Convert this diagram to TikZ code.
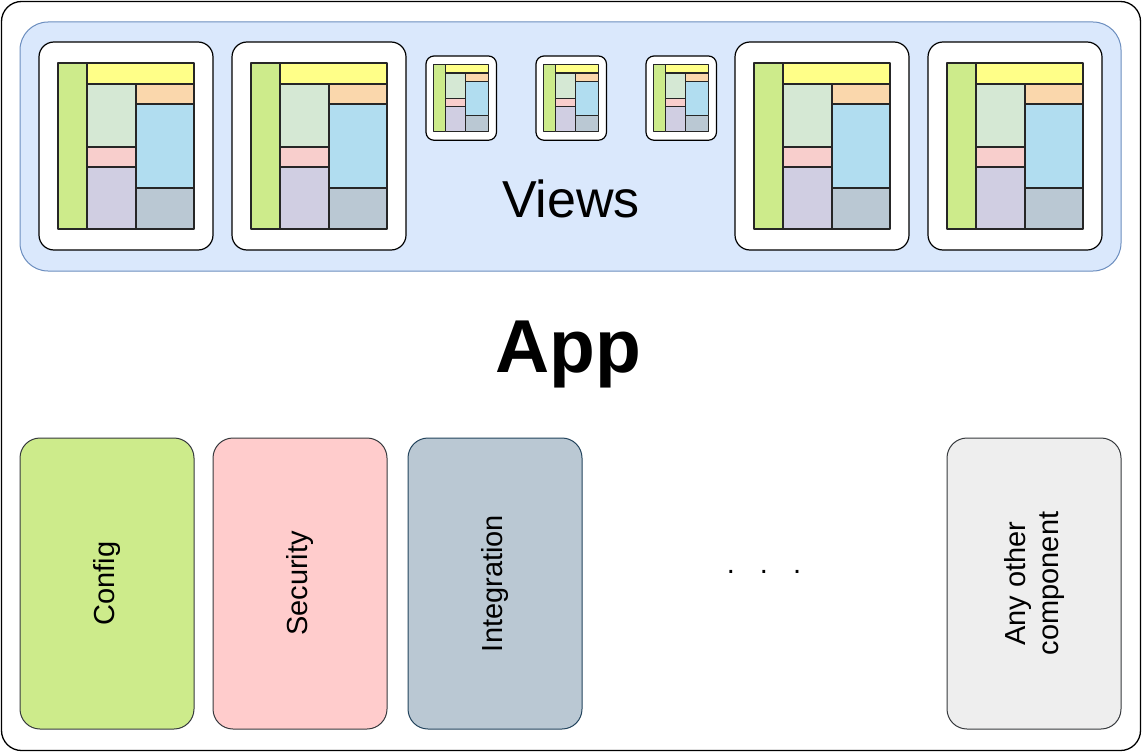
\documentclass[tikz,border=0pt]{standalone}
\usepackage{fontspec}
\setmainfont{Liberation Sans}
\definecolor{cGreen}{HTML}{CDEB8B}
\definecolor{cYellow}{HTML}{FFFF88}
\definecolor{cLGreen}{HTML}{D5E8D4}
\definecolor{cPink}{HTML}{F8CECC}
\definecolor{cPurple}{HTML}{D0CEE2}
\definecolor{cOrange}{HTML}{FAD7AC}
\definecolor{cBlue}{HTML}{B1DDF0}
\definecolor{cGray}{HTML}{BAC8D3}
\definecolor{cViewsFill}{HTML}{DAE8FC}
\definecolor{cViewsLine}{HTML}{6C8EBF}
\definecolor{cSec}{HTML}{FFCCCC}
\definecolor{cAny}{HTML}{EEEEEE}
\definecolor{cDark}{HTML}{36393D}
\definecolor{cNavy}{HTML}{23445D}
\tikzset{
  tileb/.style={draw=black, fill=white, line width=1.2pt},
  cell/.style={draw=black!85, line width=1.1pt},
  comp/.style={line width=1pt, rounded corners=20pt, minimum width=174pt, minimum height=291pt, inner sep=0pt},
  complabel/.style={rotate=90, font=\fontsize{29}{33}\selectfont, align=center, inner sep=0pt},
}
\newcommand\viewtile[4]{%
\begin{scope}[shift={(#1,#2)}, scale=#3]
\draw[tileb, rounded corners=#4] (0,0) rectangle (174,208);
\draw[cell, fill=cGreen] (19,21) rectangle (48,187);
\draw[cell, fill=cYellow] (48,21) rectangle (155,42);
\draw[cell, fill=cLGreen] (48,42) rectangle (97,105);
\draw[cell, fill=cPink] (48,105) rectangle (97,125);
\draw[cell, fill=cPurple] (48,125) rectangle (97,187);
\draw[cell, fill=cOrange] (97,42) rectangle (155,62);
\draw[cell, fill=cBlue] (97,62) rectangle (155,146);
\draw[cell, fill=cGray] (97,146) rectangle (155,187);
\end{scope}}
\begin{document}
\begin{tikzpicture}[x=1pt,y=-1pt, line join=round]
\useasboundingbox (0,0) rectangle (1142,752);
\node[draw=black, fill=white, line width=1.3pt, rounded corners=20pt, minimum width=1139pt, minimum height=749pt, inner sep=0pt] (app) at (571,376) {};
\node[draw=cViewsLine, fill=cViewsFill, line width=1pt, rounded corners=28pt, minimum width=1101pt, minimum height=249pt, inner sep=0pt] (views) at (570.5,146.5) {};
\viewtile{39}{42}{1}{15pt}
\viewtile{232}{42}{1}{15pt}
\viewtile{426}{56}{0.405}{8pt}
\viewtile{536}{56}{0.405}{8pt}
\viewtile{646}{56}{0.405}{8pt}
\viewtile{735}{42}{1}{15pt}
\viewtile{928}{42}{1}{15pt}
\node[anchor=base, inner sep=0pt, font=\fontsize{52}{62}\selectfont] (viewslabel) at (571,217) {Views};
\node[anchor=base, inner sep=0pt, font=\fontsize{75}{90}\selectfont\bfseries] (applabel) at (568,372) {App};
\node[comp, draw=cDark, fill=cGreen] (config) at (107,583.5) {};
\node[comp, draw=cDark, fill=cSec] (security) at (300,583.5) {};
\node[comp, draw=cNavy, fill=cGray] (integration) at (495,583.5) {};
\node[comp, draw=cDark, fill=cAny] (any) at (1034,583.5) {};
\node[complabel] (configlabel) at (config) {Config};
\node[complabel] (securitylabel) at (security) {Security};
\node[complabel] (integrationlabel) at (integration) {Integration};
\node[complabel] (anylabel) at (any) {Any other\\component};
\node[inner sep=0pt, font=\fontsize{29}{33}\selectfont] (dots) at (764,572) {.\hspace{25pt}.\hspace{25pt}.};
\end{tikzpicture}
\end{document}
